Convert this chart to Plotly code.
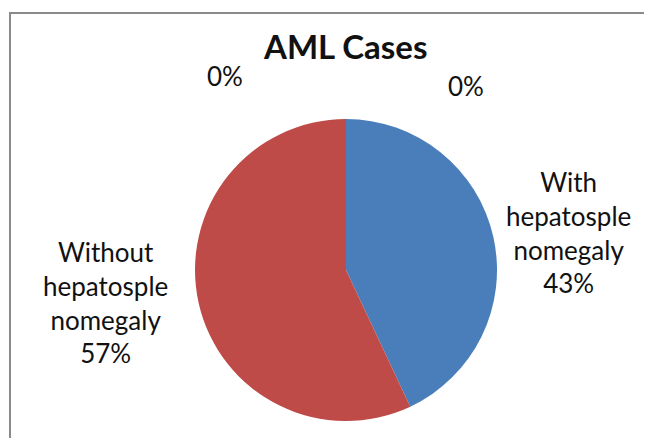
import plotly.graph_objects as go

labels = ["With<br>hepatosple<br>nomegaly", "Without<br>hepatosple<br>nomegaly", "Other A", "Other B"]
values = [43, 57, 0, 0]
colors = ["#4a7ebb", "#be4b48", "#9bbb59", "#8064a2"]
title = "AML Cases"

W, H = 652, 438
OFF = 8  # browser body margin
cx, cy, r = 346 - OFF, 270 - OFF, 151

fig = go.Figure(go.Pie(
    labels=labels, values=values, sort=False, direction="clockwise", rotation=0,
    marker=dict(colors=colors, line=dict(width=0)),
    textinfo="none", hoverinfo="label+percent", showlegend=False,
    domain=dict(x=[(cx - r) / W, (cx + r) / W], y=[(H - cy - r) / H, (H - cy + r) / H]),
))

total = sum(values)
pct = [f"{round(v / total * 100)}%" for v in values]
font = dict(family="Lato, 'Open Sans', sans-serif", size=26, color="#111")
label_pos = [(568, 232), (105, 302), (225, 76), (466, 86)]
anns = []
for i, (x, y) in enumerate(label_pos):
    txt = (labels[i] + "<br>" + pct[i]) if values[i] > 0 else pct[i]
    anns.append(dict(x=(x - OFF) / W, y=1 - (y - OFF) / H, xref="paper", yref="paper", text=txt,
                     showarrow=False, font=font, align="center",
                     xanchor="center", yanchor="middle"))
anns.append(dict(x=(345 - OFF) / W, y=1 - (46 - OFF) / H, xref="paper", yref="paper",
                 text=f"<b>{title}</b>", showarrow=False,
                 font=dict(family="Lato, 'Open Sans', sans-serif", size=33, color="#111"),
                 xanchor="center", yanchor="middle"))

fig.update_layout(
    width=W, height=H, margin=dict(l=0, r=0, t=0, b=0),
    paper_bgcolor="white", plot_bgcolor="white",
    annotations=anns,
    shapes=[dict(type="rect", xref="paper", yref="paper",
                 x0=(10 - OFF) / W, x1=1.05, y0=-0.05, y1=1 - (13 - OFF) / H,
                 line=dict(color="#8a8a8a", width=2))],
)
fig.write_html("out.html")
